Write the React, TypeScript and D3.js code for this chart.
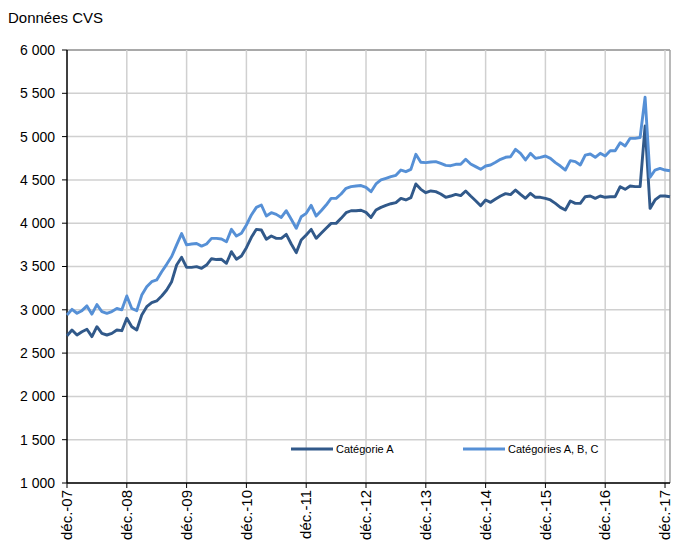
import { useEffect, useRef } from "react";
import * as d3 from "d3";

// Monthly data, Dec 2007 to Jan 2018 (seasonally adjusted)
const categoryA = [
  2700, 2767, 2709, 2747, 2775, 2690, 2805, 2728, 2709, 2728, 2767, 2759,
  2902, 2805, 2767, 2940, 3036, 3082, 3102, 3159, 3229, 3325, 3517, 3606,
  3490, 3490, 3498, 3479, 3517, 3590, 3580, 3583, 3537, 3671, 3583, 3621,
  3717, 3837, 3929, 3921, 3814, 3852, 3825, 3825, 3871, 3760, 3660, 3806,
  3864, 3929, 3825, 3883, 3941, 3998, 3998, 4056, 4121, 4144, 4144, 4150,
  4125, 4067, 4152, 4183, 4206, 4225, 4237, 4287, 4268, 4295, 4453, 4391,
  4352, 4372, 4364, 4337, 4299, 4314, 4333, 4318, 4372, 4314, 4260, 4202,
  4268, 4241, 4279, 4314, 4341, 4330, 4383, 4333, 4287, 4345, 4299, 4299,
  4287, 4268, 4229, 4183, 4152, 4256, 4229, 4229, 4306, 4314, 4287, 4314,
  4299, 4306, 4306, 4422, 4391, 4429, 4422, 4422, 5122, 4171, 4268, 4314,
  4314, 4306,
];

const categoryABC = [
  2940, 3005, 2960, 2990, 3045, 2950, 3060, 2980, 2960, 2980, 3015, 3000,
  3160, 3015, 2990, 3170, 3265, 3325, 3345, 3440, 3525, 3615, 3750, 3880,
  3750, 3760, 3765, 3735, 3760, 3825, 3825, 3817, 3786, 3929, 3852, 3883,
  3979, 4095, 4183, 4210, 4083, 4121, 4102, 4067, 4144, 4045, 3941, 4075,
  4114, 4206, 4083, 4144, 4210, 4287, 4287, 4337, 4403, 4422, 4429, 4435,
  4414, 4364, 4453, 4499, 4518, 4537, 4553, 4614, 4595, 4622, 4795, 4703,
  4699, 4707, 4711, 4691, 4668, 4664, 4680, 4680, 4738, 4684, 4653, 4622,
  4660, 4672, 4703, 4738, 4761, 4768, 4853, 4807, 4730, 4807, 4749, 4761,
  4776, 4749, 4699, 4660, 4614, 4722, 4711, 4672, 4787, 4799, 4761, 4807,
  4776, 4837, 4837, 4930, 4891, 4980, 4980, 4990, 5454, 4530, 4614, 4633,
  4614, 4606,
];

const xTickLabels = [
  "déc.-07", "déc.-08", "déc.-09", "déc.-10", "déc.-11", "déc.-12",
  "déc.-13", "déc.-14", "déc.-15", "déc.-16", "déc.-17",
];
const yTicks = [1000, 1500, 2000, 2500, 3000, 3500, 4000, 4500, 5000, 5500, 6000];
const seriesNames = ["Catégorie A", "Catégories A, B, C"];
const seriesColors = ["#31598a", "#5690d6"];

export default function App() {
  const svgRef = useRef<SVGSVGElement>(null);

  useEffect(() => {
    if (!svgRef.current) return;
    const svg = d3.select(svgRef.current);
    svg.selectAll("*").remove();

    const left = 67;
    const right = 670;
    const top = 50;
    const bottom = 483;
    const font = "Arial, 'Liberation Sans', sans-serif";

    const x = d3
      .scaleLinear()
      .domain([0, categoryA.length - 1])
      .range([left, right]);
    const y = d3.scaleLinear().domain([1000, 6000]).range([bottom, top]);
    const fmt = (v: number) => d3.format(",")(v).replace(",", " ");

    // title
    svg
      .append("text")
      .attr("x", 8)
      .attr("y", 23)
      .attr("font-family", font)
      .attr("font-size", 15)
      .attr("fill", "#000")
      .text("Données CVS");

    // horizontal gridlines
    svg
      .selectAll(".hgrid")
      .data(yTicks)
      .enter()
      .append("line")
      .attr("x1", left)
      .attr("x2", right)
      .attr("y1", (d) => y(d))
      .attr("y2", (d) => y(d))
      .attr("stroke", (d) => (d === 6000 ? "#8c8c8c" : "#d0d0d0"))
      .attr("stroke-width", 1.5);

    // vertical gridlines every 12 months
    const yearIdx = xTickLabels.map((_, k) => k * 12);
    svg
      .selectAll(".vgrid")
      .data(yearIdx.slice(1))
      .enter()
      .append("line")
      .attr("x1", (d) => x(d))
      .attr("x2", (d) => x(d))
      .attr("y1", top)
      .attr("y2", bottom)
      .attr("stroke", "#d0d0d0")
      .attr("stroke-width", 1.5);

    // right border
    svg
      .append("line")
      .attr("x1", right)
      .attr("x2", right)
      .attr("y1", top)
      .attr("y2", bottom)
      .attr("stroke", "#a0a0a0")
      .attr("stroke-width", 1.5);

    // y axis
    svg
      .append("line")
      .attr("x1", left)
      .attr("x2", left)
      .attr("y1", top)
      .attr("y2", bottom)
      .attr("stroke", "#000")
      .attr("stroke-width", 1.5);
    svg
      .selectAll(".ytick")
      .data(yTicks)
      .enter()
      .append("line")
      .attr("x1", left - 5)
      .attr("x2", left)
      .attr("y1", (d) => y(d))
      .attr("y2", (d) => y(d))
      .attr("stroke", "#000");
    svg
      .selectAll(".ylabel")
      .data(yTicks)
      .enter()
      .append("text")
      .attr("x", 55)
      .attr("y", (d) => y(d))
      .attr("dy", "0.35em")
      .attr("text-anchor", "end")
      .attr("font-family", font)
      .attr("font-size", 14)
      .text((d) => fmt(d));

    // x axis
    svg
      .append("line")
      .attr("x1", left)
      .attr("x2", right)
      .attr("y1", bottom)
      .attr("y2", bottom)
      .attr("stroke", "#000")
      .attr("stroke-width", 1.5);
    svg
      .selectAll(".xtick")
      .data(yearIdx)
      .enter()
      .append("line")
      .attr("x1", (d) => x(d))
      .attr("x2", (d) => x(d))
      .attr("y1", bottom)
      .attr("y2", bottom + 5)
      .attr("stroke", "#000");
    svg
      .selectAll(".xlabel")
      .data(xTickLabels)
      .enter()
      .append("text")
      .attr(
        "transform",
        (_, k) => `translate(${x(k * 12)},${bottom + 7}) rotate(-90)`
      )
      .attr("dy", "0.35em")
      .attr("text-anchor", "end")
      .attr("font-family", font)
      .attr("font-size", 15)
      .text((d) => d);

    // series lines
    const line = d3
      .line<number>()
      .x((_, i) => x(i))
      .y((d) => y(d));
    [categoryA, categoryABC].forEach((s, k) => {
      svg
        .append("path")
        .datum(s)
        .attr("d", line)
        .attr("fill", "none")
        .attr("stroke", seriesColors[k])
        .attr("stroke-width", 2.9)
        .attr("stroke-linejoin", "round");
    });

    // legend
    const legendX = [291, 463];
    seriesNames.forEach((name, k) => {
      const g = svg.append("g").attr("transform", `translate(${legendX[k]},449)`);
      g.append("line")
        .attr("x1", 0)
        .attr("x2", 42)
        .attr("stroke", seriesColors[k])
        .attr("stroke-width", 2.9);
      g.append("text")
        .attr("x", 45)
        .attr("dy", "0.35em")
        .attr("font-family", font)
        .attr("font-size", 11)
        .text(name);
    });
  }, []);

  return (
    <svg
      ref={svgRef}
      width={673}
      height={549}
      style={{ position: "absolute", left: 0, top: 0, background: "#fff" }}
    />
  );
}
